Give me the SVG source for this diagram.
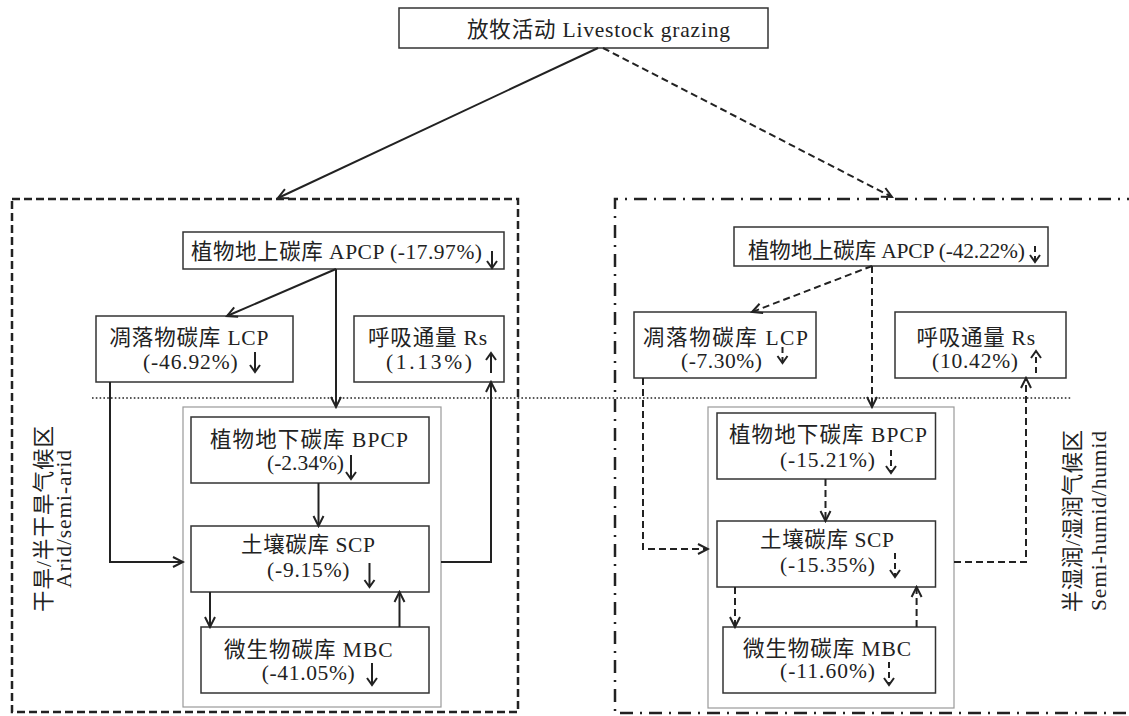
<svg xmlns="http://www.w3.org/2000/svg" width="1129" height="716" viewBox="0 0 1129 716">
<defs>
<marker id="ah" markerUnits="userSpaceOnUse" markerWidth="14" markerHeight="14" viewBox="-12 -7 14 14" refX="0" refY="0" orient="auto">
<path d="M-10,-5 L0,0 L-10,5" fill="none" stroke="#222" stroke-width="2"/>
</marker>
<style>
text{font-family:"Liberation Serif","Noto Sans CJK SC",serif;font-size:21.5px;fill:#222;}
.node{fill:#fff;stroke:#333;stroke-width:1.5;}
.grey{fill:none;stroke:#999;stroke-width:1.2;}
.sol{fill:none;stroke:#222;stroke-width:2;marker-end:url(#ah);}
.das{fill:none;stroke:#222;stroke-width:2;stroke-dasharray:7 4;marker-end:url(#ah);}
.tr{fill:none;stroke:#222;stroke-width:2;}
.trd{fill:none;stroke:#222;stroke-width:2;stroke-dasharray:6 4;}
</style>
</defs>
<rect width="1129" height="716" fill="#fff"/>

<!-- regions -->
<g id="region-arid">
<rect x="12" y="199" width="506" height="513" fill="none" stroke="#222" stroke-width="2.5" stroke-dasharray="8 4"/>
<rect class="grey" x="183" y="407" width="258" height="300"/>
<text transform="translate(51,519) rotate(-90)" text-anchor="middle" textLength="186" lengthAdjust="spacing" x="0" y="0">干旱/半干旱气候区</text>
<text transform="translate(71,519) rotate(-90)" text-anchor="middle" textLength="138" lengthAdjust="spacing" x="0" y="0">Arid/semi-arid</text>
</g>
<g id="region-humid">
<path d="M1140,199 L615,199 L615,713 L1140,713" fill="none" stroke="#222" stroke-width="2.5" stroke-dasharray="13 7 2 7"/>
<rect class="grey" x="708" y="407" width="246" height="301"/>
<text transform="translate(1080,521) rotate(-90)" text-anchor="middle" textLength="182" lengthAdjust="spacing" x="0" y="0">半湿润/湿润气候区</text>
<text transform="translate(1106,521) rotate(-90)" text-anchor="middle" textLength="180" lengthAdjust="spacing" x="0" y="0">Semi-humid/humid</text>
</g>
<line x1="92" y1="398" x2="1071" y2="398" stroke="#222" stroke-width="1.6" stroke-dasharray="1.6 2.2"/>

<!-- top node -->
<g id="grazing">
<rect class="node" x="399" y="8" width="369" height="40"/>
<text x="467" y="37" textLength="263" lengthAdjust="spacing">放牧活动 Livestock grazing</text>
</g>

<!-- left nodes -->
<g id="L-APCP">
<rect class="node" x="183" y="232" width="321" height="37"/>
<text x="191" y="259" textLength="291" lengthAdjust="spacing">植物地上碳库 APCP (-17.97%)</text>
<path class="tr" d="M492,251 L492,268 M487,261 L492,268 L497,261"/>
</g>
<g id="L-LCP">
<rect class="node" x="96" y="316" width="197" height="66"/>
<text x="109.5" y="345" textLength="159" lengthAdjust="spacing">凋落物碳库 LCP</text>
<text x="143" y="369" textLength="94.6" lengthAdjust="spacing">(-46.92%)</text>
<path class="tr" d="M255,352 L255,372 M250,365 L255,372 L260,365"/>
</g>
<g id="L-Rs">
<rect class="node" x="354" y="316" width="150" height="66"/>
<text x="368" y="345" textLength="119" lengthAdjust="spacing">呼吸通量 Rs</text>
<text x="386" y="369" textLength="86" lengthAdjust="spacing">(1.13%)</text>
<path class="tr" d="M491,373 L491,353 M486,360 L491,353 L496,360"/>
</g>
<g id="L-BPCP">
<rect class="node" x="191" y="417" width="238" height="66"/>
<text x="210" y="447" textLength="198" lengthAdjust="spacing">植物地下碳库 BPCP</text>
<text x="267" y="470" textLength="77" lengthAdjust="spacing">(-2.34%)</text>
<path class="tr" d="M351,455 L351,479 M346,472 L351,479 L356,472"/>
</g>
<g id="L-SCP">
<rect class="node" x="191" y="526" width="238" height="66"/>
<text x="241" y="552" textLength="134" lengthAdjust="spacing">土壤碳库 SCP</text>
<text x="267" y="577" textLength="82.5" lengthAdjust="spacing">(-9.15%)</text>
<path class="tr" d="M369.5,563 L369.5,587 M364.5,580 L369.5,587 L374.5,580"/>
</g>
<g id="L-MBC">
<rect class="node" x="201" y="627" width="228" height="66"/>
<text x="224" y="657" textLength="168.6" lengthAdjust="spacing">微生物碳库 MBC</text>
<text x="261.7" y="680" textLength="93" lengthAdjust="spacing">(-41.05%)</text>
<path class="tr" d="M372,663 L372,685 M367,678 L372,685 L377,678"/>
</g>

<!-- right nodes -->
<g id="R-APCP">
<rect class="node" x="734" y="227" width="314" height="39"/>
<text x="748" y="258" textLength="277" lengthAdjust="spacing">植物地上碳库 APCP (-42.22%)</text>
<path class="trd" d="M1035,246 L1035,262"/>
<path class="tr" d="M1030,255 L1035,262 L1040,255"/>
</g>
<g id="R-LCP">
<rect class="node" x="634" y="312" width="182" height="66"/>
<text x="643" y="345" textLength="165" lengthAdjust="spacing">凋落物碳库 LCP</text>
<text x="681" y="368" textLength="81" lengthAdjust="spacing">(-7.30%)</text>
<path class="trd" d="M782.5,347 L782.5,363"/>
<path class="tr" d="M777.5,356 L782.5,363 L787.5,356"/>
</g>
<g id="R-Rs">
<rect class="node" x="895" y="312" width="171" height="66"/>
<text x="916.6" y="345" textLength="118.4" lengthAdjust="spacing">呼吸通量 Rs</text>
<text x="932" y="368" textLength="86" lengthAdjust="spacing">(10.42%)</text>
<path class="trd" d="M1036,373 L1036,351"/>
<path class="tr" d="M1031,358 L1036,351 L1041,358"/>
</g>
<g id="R-BPCP">
<rect class="node" x="717" y="413" width="218.5" height="66"/>
<text x="729" y="442" textLength="198" lengthAdjust="spacing">植物地下碳库 BPCP</text>
<text x="780" y="467" textLength="95" lengthAdjust="spacing">(-15.21%)</text>
<path class="trd" d="M891,450 L891,473"/>
<path class="tr" d="M886,466 L891,473 L896,466"/>
</g>
<g id="R-SCP">
<rect class="node" x="717" y="521" width="218.5" height="66"/>
<text x="760" y="547" textLength="134" lengthAdjust="spacing">土壤碳库 SCP</text>
<text x="780" y="572" textLength="95" lengthAdjust="spacing">(-15.35%)</text>
<path class="trd" d="M895,553 L895,577"/>
<path class="tr" d="M890,570 L895,577 L900,570"/>
</g>
<g id="R-MBC">
<rect class="node" x="723" y="627" width="212.5" height="66"/>
<text x="743" y="656" textLength="168" lengthAdjust="spacing">微生物碳库 MBC</text>
<text x="780" y="678" textLength="95" lengthAdjust="spacing">(-11.60%)</text>
<path class="trd" d="M889,662 L889,685"/>
<path class="tr" d="M884,678 L889,685 L894,678"/>
</g>

<!-- connectors -->
<g id="connectors">
<path class="sol" d="M598,48 L278,198"/>
<path class="das" d="M603,48 L892,197"/>
<path class="sol" d="M336,269 L227,316"/>
<path class="sol" d="M336,269 L336,407"/>
<path class="sol" d="M110,382 L110,562 L183,562"/>
<path class="sol" d="M441,562 L491,562 L491,382"/>
<path class="sol" d="M318.5,483 L318.5,526"/>
<path class="sol" d="M210,592 L210,627"/>
<path class="sol" d="M399.5,627 L399.5,592"/>
<path class="das" d="M872,266 L752,312"/>
<path class="das" d="M872,266 L872,407"/>
<path class="das" d="M643,378 L643,549 L708,549"/>
<path class="das" d="M954,562 L1026,562 L1026,378"/>
<path class="das" d="M825.5,479 L825.5,521"/>
<path class="das" d="M735,587 L735,627"/>
<path class="das" d="M916.6,627 L916.6,587"/>
</g>
</svg>
